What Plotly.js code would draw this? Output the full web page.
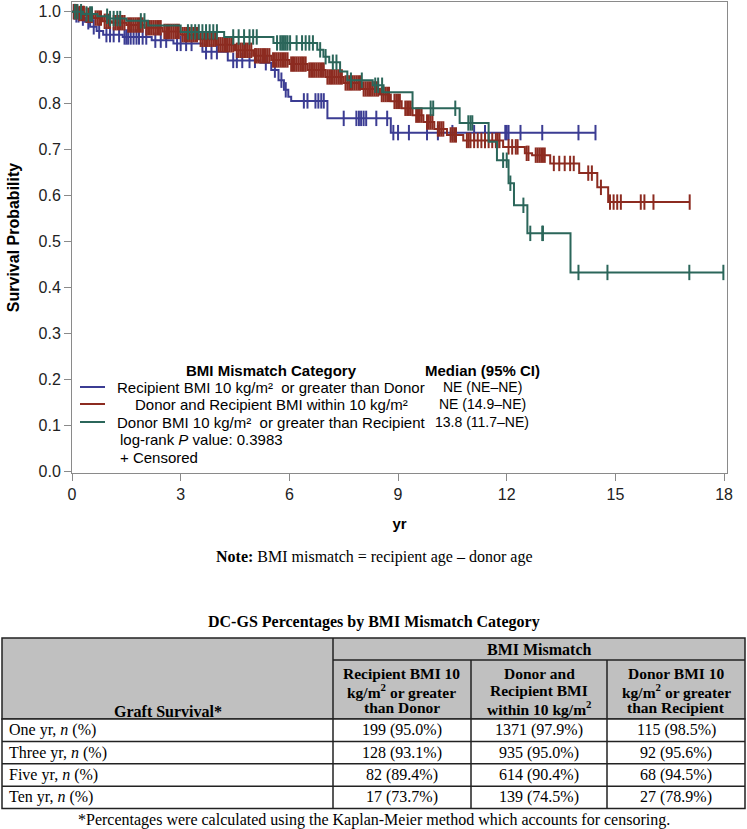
<!DOCTYPE html>
<html><head><meta charset="utf-8">
<script src="https://cdn.plot.ly/plotly-3.0.1.min.js"></script>
<style>html,body{margin:0;padding:0;background:#fff}#chart{width:747px;height:829px}</style>
</head><body><div id="chart"></div>
<script>
// ---------- DATA ----------
const seriesNames = [
  'Recipient BMI 10 kg/m\u00b2  or greater than Donor',
  'Donor and Recipient BMI within 10 kg/m\u00b2',
  'Donor BMI 10 kg/m\u00b2  or greater than Recipient'
];
const medians = ['NE (NE\u2013NE)', 'NE (14.9\u2013NE)', '13.8 (11.7\u2013NE)'];
const seriesColors = ['#3b3c93', '#8c2b20', '#2b665a'];

// Recipient BMI >=10 greater than donor (event times, survival after event)
const blueT = [0, 0.1, 0.25, 0.36, 0.5, 0.68, 0.86, 1.4, 2.2, 2.8, 3.6, 4.3, 5.2, 5.5, 5.7, 5.85, 5.97, 6.05, 7.05, 8.8];
const blueS = [1.0, 0.993, 0.986, 0.978, 0.967, 0.958, 0.950, 0.945, 0.938, 0.931, 0.913, 0.894, 0.889, 0.873, 0.851, 0.830, 0.815, 0.806, 0.768, 0.737];
const blueCens = [0.05, 0.12, 0.18, 0.3, 0.45, 0.6, 0.75, 0.95, 1.05, 1.15, 1.3, 1.45, 1.5, 1.55, 1.62, 1.7, 1.78, 1.85, 1.95, 2.05,
  2.3, 2.45, 2.6, 2.9, 3.0, 3.15, 3.3, 3.7, 3.85, 4.0, 4.45, 4.55, 4.7, 4.9, 5.05, 5.35, 5.6, 5.78, 5.9, 6.4, 6.5, 6.72, 6.8, 6.88, 6.95,
  7.5, 7.85, 7.92, 7.98, 8.05, 8.12, 8.4, 8.7, 8.87, 9.0, 9.3, 9.8, 10.1, 10.5, 11.1, 11.4, 11.96, 12.0, 12.05, 12.38, 12.98, 13.98, 14.45];

// Donor and recipient BMI within 10
const redT = [0, 0.15, 0.35, 0.6, 0.85, 1.1, 1.5, 2.0, 2.5, 3.0, 3.5, 4.0, 4.5, 5.0, 5.5, 6.0, 6.5, 7.0, 7.5, 8.0, 8.5, 8.8, 9.1, 9.4, 9.7, 10.0, 10.35, 10.8, 11.9, 12.5, 12.7, 13.2, 14.0, 14.5, 14.8];
const redS = [1.0, 0.996, 0.992, 0.986, 0.979, 0.976, 0.971, 0.965, 0.957, 0.950, 0.940, 0.928, 0.916, 0.904, 0.895, 0.886, 0.873, 0.858, 0.845, 0.832, 0.820, 0.805, 0.790, 0.775, 0.760, 0.745, 0.732, 0.720, 0.706, 0.692, 0.688, 0.670, 0.649, 0.618, 0.586];
const redCens = [0.05,0.08,0.1,0.13,0.2,0.25,0.3,0.33,0.4,0.45,0.5,0.55,0.65,0.7,0.75,0.8,0.9,0.95,1.0,1.05,1.15,1.2,1.25,1.3,1.35,1.4,1.45,1.55,1.6,1.65,1.7,1.75,1.8,1.85,1.9,1.95,
  2.05,2.1,2.15,2.2,2.25,2.3,2.35,2.4,2.45,2.55,2.6,2.65,2.7,2.75,2.8,2.85,2.9,2.95,3.05,3.1,3.15,3.2,3.25,3.3,3.35,3.4,3.45,3.55,3.6,3.65,3.7,3.75,3.8,3.85,3.9,3.95,
  4.05,4.1,4.15,4.2,4.25,4.3,4.35,4.4,4.45,4.55,4.6,4.65,4.7,4.75,4.8,4.85,4.9,4.95,5.05,5.1,5.15,5.2,5.25,5.3,5.35,5.4,5.45,5.55,5.6,5.65,5.7,5.75,5.8,5.85,5.9,5.95,
  6.05,6.1,6.15,6.2,6.25,6.3,6.35,6.4,6.45,6.55,6.6,6.65,6.7,6.75,6.8,6.85,6.9,6.95,
  7.05,7.1,7.15,7.2,7.25,7.3,7.35,7.4,7.45,7.55,7.6,7.65,7.7,7.75,7.8,7.85,7.9,7.95,8.05,8.1,8.15,8.2,8.25,8.3,8.35,8.4,8.45,8.55,8.6,8.65,8.7,8.75,8.9,8.95,
  9.0,9.05,9.2,9.25,9.3,9.35,9.5,9.55,9.6,9.65,9.8,9.85,9.9,9.95,10.1,10.15,10.2,10.25,10.45,10.5,10.55,10.6,10.9,10.95,11.0,11.1,11.2,11.3,11.4,
  11.5,11.6,11.7,11.75,11.8,12.05,12.15,12.25,12.3,12.55,12.6,12.8,12.85,12.9,12.95,13.0,13.05,13.3,13.45,13.6,13.75,13.85,14.25,14.35,14.6,14.85,14.95,15.05,15.15,15.7,15.8,16.05,17.05];

// Donor BMI >=10 greater than recipient
const greenT = [0, 0.3, 0.7, 1.0, 1.5, 2.1, 3.0, 4.2, 5.56, 6.77, 6.94, 7.1, 7.4, 7.6, 8.3, 8.6, 9.4, 10.7, 11.5, 11.73, 12.05, 12.2, 12.57, 13.76];
const greenS = [1.0, 0.995, 0.990, 0.985, 0.980, 0.970, 0.956, 0.945, 0.932, 0.917, 0.902, 0.890, 0.870, 0.851, 0.840, 0.825, 0.790, 0.758, 0.717, 0.677, 0.627, 0.579, 0.518, 0.433];
const greenCens = [0.08,0.15,0.25,0.4,0.5,0.55,0.97,1.05,1.15,1.25,1.33,1.9,2.0,3.2,3.3,3.4,3.5,3.6,3.7,3.8,3.9,4.0,4.45,4.6,4.75,4.9,5.0,5.1,
  5.66,5.75,5.8,5.85,5.9,5.95,6.02,6.2,6.35,6.45,6.55,6.65,6.85,7.0,7.2,7.3,7.7,8.0,8.37,8.45,8.56,9.9,9.97,10.58,10.94,11.0,11.05,11.9,12.0,12.1,
  12.46,12.65,12.98,13.0,13.98,14.78,17.04,17.98];

const xTicks = [0, 3, 6, 9, 12, 15, 18];
const logRankP = '0.3983';

// Table data
const tableTitle = 'DC-GS Percentages by BMI Mismatch Category';
const tableGroup = 'BMI Mismatch';
const firstColHeader = 'Graft Survival*';
const colHeaders = [
  'Recipient BMI 10<br>kg/m<sup>2</sup> or greater<br>than Donor',
  'Donor and<br>Recipient BMI<br>within 10 kg/m<sup>2</sup>',
  'Donor BMI 10<br>kg/m<sup>2</sup> or greater<br>than Recipient'
];
const rowLabels = ['One yr, <i>n</i> (%)', 'Three yr, <i>n</i> (%)', 'Five yr, <i>n</i> (%)', 'Ten yr, <i>n</i> (%)'];
const recipN = [199, 128, 82, 17];
const recipPct = [95.0, 93.1, 89.4, 73.7];
const withinN = [1371, 935, 614, 139];
const withinPct = [97.9, 95.0, 90.4, 74.5];
const donorN = [115, 92, 68, 27];
const donorPct = [98.5, 95.6, 94.5, 78.9];
const noteText = '<b>Note:</b> BMI mismatch = recipient age \u2013 donor age';
const footnote = '*Percentages were calculated using the Kaplan-Meier method which accounts for censoring.';

// ---------- BUILD ----------
const W = 747, H = 829;
const L = 72, R = 727, T = 2, B = 473;
const px = x => (x - L) / (R - L);
const py = y => (B - y) / (B - T);

function survAt(t, ts, ss) {
  let s = ss[0];
  for (let i = 0; i < ts.length; i++) { if (ts[i] <= t) s = ss[i]; else break; }
  return s;
}

const series = [
  {T: blueT, S: blueS, C: blueCens},
  {T: redT, S: redS, C: redCens},
  {T: greenT, S: greenS, C: greenCens}
];

const traces = [];
series.forEach((sr, i) => {
  const lastC = sr.C[sr.C.length - 1];
  const xs = sr.T.slice(); const ys = sr.S.slice();
  if (lastC > xs[xs.length - 1]) { xs.push(lastC); ys.push(ys[ys.length - 1]); }
  traces.push({x: xs, y: ys, type: 'scatter', mode: 'lines', line: {shape: 'hv', color: seriesColors[i], width: 2},
    hoverinfo: 'skip', showlegend: false});
  traces.push({x: sr.C, y: sr.C.map(t => survAt(t, sr.T, sr.S)), type: 'scatter', mode: 'markers',
    marker: {symbol: 'line-ns-open', size: 11, color: seriesColors[i], line: {color: seriesColors[i], width: 2}},
    hoverinfo: 'skip', showlegend: false});
});

const sans = 'Liberation Sans, Arial, sans-serif';
const serif = 'Liberation Serif, Times New Roman, serif';
const annotations = [];
const shapes = [];
function ann(x, y, text, font, xanchor) {
  annotations.push({xref: 'paper', yref: 'paper', x: px(x), y: py(y), text: text, showarrow: false,
    xanchor: xanchor || 'center', yanchor: 'middle', font: font});
}
const legFont = {family: sans, size: 15, color: '#000'};
const medFont = {family: sans, size: 14, color: '#000'};
const tabFont = {family: serif, size: 16, color: '#000'};
const headFont = {family: serif, size: 15.5, color: '#000'};

// Legend (inside plot)
const legCX = 271, medCX = 482;
const legRowY = [387, 404, 422];
ann(legCX, 370, '<b>BMI Mismatch Category</b>', legFont);
ann(medCX, 370, '<b>Median (95% CI)</b>', legFont);
seriesNames.forEach((nm, i) => {
  shapes.push({type: 'line', xref: 'paper', yref: 'paper', x0: px(80), x1: px(105), y0: py(legRowY[i]), y1: py(legRowY[i]),
    line: {color: seriesColors[i], width: 2}});
  ann(legCX, legRowY[i], nm, legFont);
  ann(medCX, legRowY[i], medians[i], medFont);
});
ann(118, 439, 'log-rank <i>P</i> value: ' + logRankP, legFont, 'left');
ann(118, 457, '+ Censored', legFont, 'left');

// Note
ann(374, 557, noteText, tabFont);

// Table
const tX = [2, 333, 471, 607, 745];
const tTop = 638, tBand = 660, tHead = 719, rowH = 22.4;
const tBottom = tHead + rowH * rowLabels.length;
const lineC = '#222', lineW = 1.5;
ann(374, 622, '<b>' + tableTitle + '</b>', tabFont);
shapes.push({type: 'rect', xref: 'paper', yref: 'paper', x0: px(tX[0]), x1: px(tX[4]), y0: py(tTop), y1: py(tHead),
  fillcolor: '#c0c0c0', line: {color: lineC, width: lineW}, layer: 'below'});
shapes.push({type: 'rect', xref: 'paper', yref: 'paper', x0: px(tX[0]), x1: px(tX[4]), y0: py(tHead), y1: py(tBottom),
  fillcolor: '#ffffff', line: {color: lineC, width: lineW}, layer: 'below'});
shapes.push({type: 'line', xref: 'paper', yref: 'paper', x0: px(tX[1]), x1: px(tX[1]), y0: py(tTop), y1: py(tBottom), line: {color: lineC, width: lineW}});
shapes.push({type: 'line', xref: 'paper', yref: 'paper', x0: px(tX[1]), x1: px(tX[4]), y0: py(tBand), y1: py(tBand), line: {color: lineC, width: lineW}});
[2, 3].forEach(k => shapes.push({type: 'line', xref: 'paper', yref: 'paper', x0: px(tX[k]), x1: px(tX[k]), y0: py(tBand), y1: py(tBottom), line: {color: lineC, width: lineW}}));
for (let r = 1; r < rowLabels.length; r++) {
  shapes.push({type: 'line', xref: 'paper', yref: 'paper', x0: px(tX[0]), x1: px(tX[4]), y0: py(tHead + r * rowH), y1: py(tHead + r * rowH), line: {color: lineC, width: lineW}});
}
ann((tX[1] + tX[4]) / 2, (tTop + tBand) / 2, '<b>' + tableGroup + '</b>', tabFont);
ann((tX[0] + tX[1]) / 2, tHead - 8, '<b>' + firstColHeader + '</b>', tabFont);
const headLineGap = 17.2;
colHeaders.forEach((h, k) => {
  const parts = h.split('<br>');
  const yc = (tBand + tHead) / 2 + 1;
  parts.forEach((p, j) => {
    ann((tX[k + 1] + tX[k + 2]) / 2, yc + (j - (parts.length - 1) / 2) * headLineGap, '<b>' + p + '</b>', headFont);
  });
});
const colVals = [[recipN, recipPct], [withinN, withinPct], [donorN, donorPct]];
rowLabels.forEach((lab, r) => {
  const yc = tHead + r * rowH + rowH / 2;
  ann(7, yc, lab, tabFont, 'left');
  colVals.forEach((cv, k) => {
    ann((tX[k + 1] + tX[k + 2]) / 2, yc, cv[0][r] + ' (' + cv[1][r].toFixed(1) + '%)', tabFont);
  });
});
ann(374, 820, footnote, tabFont);

const axisCommon = {showline: true, linecolor: '#8a8a8a', linewidth: 1, mirror: true, ticks: 'outside', ticklen: 7,
  tickcolor: '#8a8a8a', showgrid: false, zeroline: false, tickfont: {family: sans, size: 16, color: '#222'}};

const layout = {
  width: W, height: H,
  margin: {l: L, r: W - R, t: T, b: H - B, pad: 0},
  paper_bgcolor: '#fff', plot_bgcolor: '#fff',
  xaxis: Object.assign({}, axisCommon, {range: [0, 18.08], tickvals: xTicks, ticktext: xTicks.map(String),
    title: {text: '<b>yr</b>', font: {family: sans, size: 15, color: '#000'}, standoff: 16}}),
  yaxis: Object.assign({}, axisCommon, {range: [-0.003, 1.021], tick0: 0, dtick: 0.1, tickformat: '.1f',
    title: {text: '<b>Survival Probability</b>', font: {family: sans, size: 16, color: '#000'}, standoff: 14}}),
  annotations: annotations, shapes: shapes, showlegend: false
};

Plotly.newPlot('chart', traces, layout, {staticPlot: true, displayModeBar: false});
</script></body></html>
